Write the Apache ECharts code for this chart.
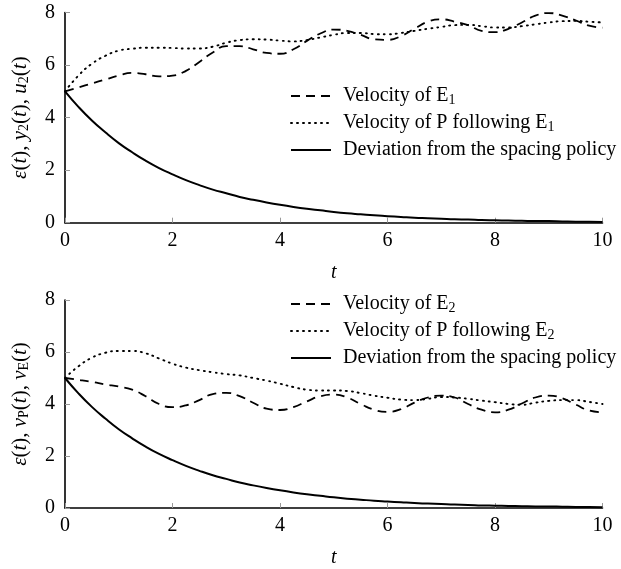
<!DOCTYPE html>
<html><head><meta charset="utf-8">
<script src="https://cdn.jsdelivr.net/npm/echarts@6/dist/echarts.min.js"></script>
<style>html,body{margin:0;padding:0;background:#fff}#c{width:621px;height:569px}</style>
</head><body><div id="c"></div>
<script>
const tVals = [0,0.25,0.5,0.75,1,1.25,1.5,1.75,2,2.25,2.5,2.75,3,3.25,3.5,3.75,4,4.25,4.5,4.75,5,5.25,5.5,5.75,6,6.25,6.5,6.75,7,7.25,7.5,7.75,8,8.25,8.5,8.75,9,9.25,9.5,9.75,10];
const xTicks = [0,2,4,6,8,10];
const yTicks = [0,2,4,6,8];
// top panel
const velE1 = [5.0,5.15,5.3,5.45,5.6,5.7,5.65,5.57,5.6,5.78,6.12,6.48,6.72,6.72,6.6,6.46,6.43,6.6,6.92,7.2,7.35,7.3,7.15,6.98,6.96,7.1,7.38,7.65,7.74,7.65,7.52,7.3,7.25,7.38,7.62,7.88,7.98,7.88,7.7,7.5,7.42];
const velPE1 = [5.0,5.6,6.05,6.35,6.55,6.62,6.66,6.66,6.65,6.63,6.63,6.7,6.85,6.95,6.98,6.97,6.93,6.9,6.95,7.05,7.15,7.22,7.22,7.18,7.17,7.22,7.3,7.38,7.45,7.52,7.53,7.48,7.43,7.43,7.48,7.55,7.62,7.67,7.68,7.65,7.62];
const devTop = [5,4.41,3.89,3.44,3.03,2.68,2.36,2.08,1.84,1.62,1.43,1.26,1.12,0.98,0.87,0.77,0.68,0.6,0.53,0.47,0.41,0.36,0.32,0.28,0.25,0.22,0.19,0.17,0.15,0.13,0.12,0.1,0.09,0.08,0.07,0.06,0.06,0.05,0.04,0.04,0.03];
// bottom panel
const velE2 = [5.0,4.93,4.85,4.75,4.67,4.55,4.3,4.0,3.88,3.95,4.15,4.38,4.43,4.3,4.05,3.82,3.77,3.88,4.1,4.3,4.36,4.25,4.0,3.78,3.7,3.8,4.05,4.25,4.32,4.25,4.0,3.78,3.68,3.78,4.02,4.25,4.32,4.22,3.98,3.75,3.68];
const velPE2 = [5.0,5.45,5.78,5.97,6.04,6.04,5.95,5.75,5.55,5.4,5.3,5.22,5.15,5.1,5.0,4.9,4.78,4.65,4.55,4.52,4.52,4.5,4.42,4.32,4.24,4.17,4.15,4.2,4.27,4.25,4.2,4.13,4.07,4.0,3.97,4.05,4.12,4.15,4.15,4.08,4.0];
const devBot = [5,4.41,3.89,3.44,3.03,2.68,2.36,2.08,1.84,1.62,1.43,1.26,1.12,0.98,0.87,0.77,0.68,0.6,0.53,0.47,0.41,0.36,0.32,0.28,0.25,0.22,0.19,0.17,0.15,0.13,0.12,0.1,0.09,0.08,0.07,0.06,0.06,0.05,0.04,0.04,0.03];

const names = ['Velocity of E1','Velocity of P following E1','Deviation from the spacing policy'];
const names2 = ['Velocity of E2','Velocity of P following E2','Deviation from the spacing policy '];

const F = 'Liberation Serif';
const zip = a => a.map((v,i)=>[tVals[i], v]);

function xAx(idx){
  return {type:'value', gridIndex:idx, min:0, max:10, interval:2,
    name:'t', nameLocation:'middle', nameGap:40,
    nameTextStyle:{fontFamily:F, fontStyle:'italic', fontSize:20, color:'#000'},
    axisLine:{show:true, onZero:false, lineStyle:{color:'#000', width:1.6}},
    axisTick:{show:true, inside:true, length:5, lineStyle:{color:'#999', width:1}},
    axisLabel:{fontFamily:F, fontSize:20, color:'#000', margin:8},
    splitLine:{show:false}};
}
const rich = {
  i:{fontFamily:F, fontStyle:'italic', fontSize:21, color:'#000'},
  r:{fontFamily:F, fontSize:21, color:'#000'},
  s:{fontFamily:F, fontSize:14, color:'#000', verticalAlign:'bottom', padding:[7,0,0,0]}
};
function yAx(idx, nm){
  return {type:'value', gridIndex:idx, min:0, max:8, interval:2,
    name:nm, nameLocation:'middle', nameGap:34, nameRotate:90,
    nameTextStyle:{rich:rich, fontFamily:F, fontSize:21, color:'#000'},
    axisLine:{show:true, onZero:false, lineStyle:{color:'#000', width:1.6}},
    axisTick:{show:true, inside:true, length:5, lineStyle:{color:'#999', width:1}},
    axisLabel:{fontFamily:F, fontSize:20, color:'#000', margin:10},
    splitLine:{show:false}};
}
const dashed = {color:'#000', width:1.8, type:[9,6]};
const dotted = {color:'#000', width:1.9, type:[1,5], cap:'round'};
const solid = {color:'#000', width:2};
function ser(name, data, ls, idx){
  return {type:'line', name:name, xAxisIndex:idx, yAxisIndex:idx, data:zip(data),
    symbol:'none', smooth:true, lineStyle:ls, itemStyle:{color:'#000'}, z: 3};
}
const legRich = {
  s:{fontFamily:F, fontSize:14, color:'#000', padding:[8,0,0,0]}
};
function legFmt(n){
  const m = n.match(/^(.*E)([12])$/);
  if (m) return m[1] + '{s|' + m[2] + '}';
  return n.trim();
}
function leg(data, top){
  return {orient:'vertical', left:285, top:top, itemWidth:40, itemHeight:14, itemGap:6,
    data:data, formatter:legFmt, selectedMode:false,
    itemStyle:{opacity:0},
    textStyle:{fontFamily:F, fontSize:20, color:'#000', rich:legRich, padding:[0,0,0,7]}};
}
const chart = echarts.init(document.getElementById('c'), null, {renderer:'canvas'});
chart.setOption({
  animation:false,
  backgroundColor:'#fff',
  grid:[{left:65, right:18.5, top:12.5, height:210.2},
        {left:65, right:18.5, top:300, height:211.5}],
  xAxis:[xAx(0), xAx(1)],
  yAxis:[yAx(0,'{i|ε}{r|(}{i|t}{r|), }{i|y}{s|2}{r|(}{i|t}{r|), }{i|u}{s|2}{r|(}{i|t}{r|)}'),
         yAx(1,'{i|ε}{r|(}{i|t}{r|), }{i|v}{s|P}{r|(}{i|t}{r|), }{i|v}{s|E}{r|(}{i|t}{r|)}')],
  legend:[leg(names, 81), leg(names2, 289)],
  series:[
    ser(names[0], velE1, dashed, 0),
    ser(names[1], velPE1, dotted, 0),
    ser(names[2], devTop, solid, 0),
    ser(names2[0], velE2, dashed, 1),
    ser(names2[1], velPE2, dotted, 1),
    ser(names2[2], devBot, solid, 1)
  ]
});
</script></body></html>
